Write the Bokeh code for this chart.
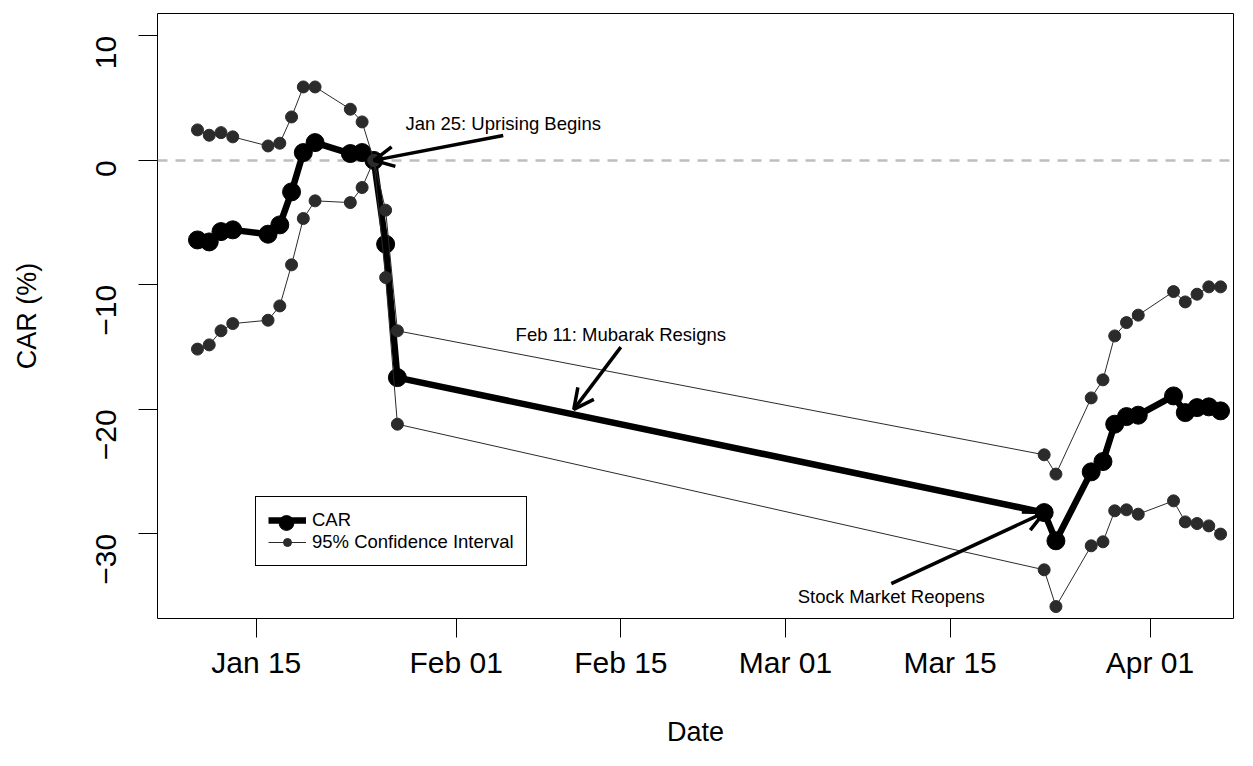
import math
import pandas as pd
from bokeh.plotting import figure
from bokeh.models import (Range1d, FixedTicker, DatetimeTickFormatter, Span, Label,
                          Arrow, OpenHead, Legend, LegendItem, ColumnDataSource)
from bokeh.embed import file_html
from bokeh.resources import INLINE

# ---------------- data ----------------
dates = ["2011-01-10", "2011-01-11", "2011-01-12", "2011-01-13", "2011-01-16",
         "2011-01-17", "2011-01-18", "2011-01-19", "2011-01-20", "2011-01-23",
         "2011-01-24", "2011-01-25", "2011-01-26", "2011-01-27", "2011-03-23",
         "2011-03-24", "2011-03-27", "2011-03-28", "2011-03-29", "2011-03-30",
         "2011-03-31", "2011-04-03", "2011-04-04", "2011-04-05", "2011-04-06",
         "2011-04-07"]
car = [-6.39, -6.55, -5.72, -5.58, -5.93, -5.18, -2.53, 0.63, 1.43, 0.55,
       0.63, 0.0, -6.73, -17.45, -28.29, -30.56, -25.02, -24.19, -21.19, -20.58,
       -20.47, -18.92, -20.26, -19.86, -19.80, -20.12]
ci_upper = [2.45, 2.02, 2.23, 1.89, 1.16, 1.38, 3.49, 5.90, 5.90, 4.11,
            3.09, 0.0, -4.00, -13.69, -23.65, -25.20, -19.08, -17.63, -14.10, -13.03,
            -12.43, -10.54, -11.37, -10.75, -10.16, -10.16]
ci_lower = [-15.16, -14.82, -13.69, -13.11, -12.84, -11.69, -8.39, -4.67, -3.25, -3.39,
            -2.18, 0.0, -9.41, -21.19, -32.89, -35.84, -30.96, -30.64, -28.15, -28.07,
            -28.42, -27.35, -29.04, -29.17, -29.36, -30.02]

x_ticks = ["2011-01-15", "2011-02-01", "2011-02-15", "2011-03-01", "2011-03-15", "2011-04-01"]
y_ticks = [-30, -20, -10, 0, 10]
y_tick_labels = ["\u221230", "\u221220", "\u221210", "0", "10"]

series_labels = ["CAR", "95% Confidence Interval"]

ann_text = ["Jan 25: Uprising Begins", "Feb 11: Mubarak Resigns", "Stock Market Reopens"]
ann_text_x = ["2011-02-05", "2011-02-15", "2011-03-10"]
ann_text_y = [3.0, -14.0, -35.0]
arrow_x0 = ["2011-02-05", "2011-02-15", "2011-03-10"]
arrow_y0 = [2.0, -15.0, -34.0]
arrow_x1 = ["2011-01-25", "2011-02-11", "2011-03-23"]
arrow_y1 = [0.0, -20.0, -28.29]


def ms(d):
    return pd.Timestamp(d).value / 1e6


FONT = "Liberation Sans"

src = ColumnDataSource(dict(x=pd.to_datetime(dates), car=car, up=ci_upper, lo=ci_lower))

x_start = pd.Timestamp("2011-01-15") - pd.Timedelta(days=8.4)
x_end = pd.Timestamp("2011-01-15") + pd.Timedelta(days=83.1)

p = figure(width=1253, height=766, x_axis_type="datetime",
           x_range=Range1d(x_start, x_end), y_range=Range1d(-36.8, 11.8),
           output_backend="svg", toolbar_location=None,
           min_border_left=157, min_border_right=20, min_border_top=13, min_border_bottom=148)

p.xgrid.visible = False
p.ygrid.visible = False
p.outline_line_color = "black"
p.outline_line_width = 1
p.outline_line_alpha = 1
p.background_fill_color = "white"
p.border_fill_color = "white"

# zero line
p.add_layout(Span(location=0, dimension="width", line_color="#BEBEBE",
                  line_dash="10 8", line_width=2.5, level="underlay"))

# series
car_line = p.line("x", "car", source=src, line_color="black", line_width=6.5)
car_pts = p.scatter("x", "car", source=src, size=18, color="black")
ci_col = "#2b2b2b"
up_line = p.line("x", "up", source=src, line_color=ci_col, line_width=1)
up_pts = p.scatter("x", "up", source=src, size=12, color=ci_col)
lo_line = p.line("x", "lo", source=src, line_color=ci_col, line_width=1)
lo_pts = p.scatter("x", "lo", source=src, size=12, color=ci_col)

# axes
for ax in (p.xaxis[0], p.yaxis[0]):
    ax.axis_line_color = None
    ax.major_tick_out = 19
    ax.major_tick_in = 0
    ax.minor_tick_out = 0
    ax.minor_tick_in = 0
    ax.major_tick_line_color = "black"
    ax.major_label_text_font = FONT
    ax.major_label_text_font_size = "30px"
    ax.major_label_text_color = "black"
    ax.axis_label_text_font = FONT
    ax.axis_label_text_font_size = "27px"
    ax.axis_label_text_font_style = "normal"
    ax.axis_label_text_color = "black"

p.xaxis.ticker = FixedTicker(ticks=[ms(d) for d in x_ticks])
p.xaxis.formatter = DatetimeTickFormatter(days="%b %d", months="%b %d", years="%b %d",
                                          hours="%b %d")
p.xaxis.major_label_standoff = 8
p.xaxis.axis_label = "Date"
p.xaxis.axis_label_standoff = 35

p.yaxis.ticker = FixedTicker(ticks=y_ticks)
p.yaxis.major_label_overrides = dict(zip(y_ticks, y_tick_labels))
p.yaxis.major_label_orientation = math.pi / 2
p.yaxis.major_label_standoff = 32
p.yaxis.axis_label = "CAR (%)"
p.yaxis.axis_label_standoff = 42

# annotations
for t, tx, ty in zip(ann_text, ann_text_x, ann_text_y):
    p.add_layout(Label(x=ms(tx), y=ty, text=t, text_align="center", text_baseline="middle",
                       text_font=FONT, text_font_size="18.5px", text_color="black"))
for xa, ya, xb, yb in zip(arrow_x0, arrow_y0, arrow_x1, arrow_y1):
    p.add_layout(Arrow(end=OpenHead(size=20, line_width=3.5, line_color="black"),
                       x_start=ms(xa), y_start=ya, x_end=ms(xb), y_end=yb,
                       line_width=3.5, line_color="black"))

# legend
leg = Legend(items=[LegendItem(label=series_labels[0], renderers=[car_line, car_pts]),
                    LegendItem(label=series_labels[1], renderers=[up_line, up_pts])],
             location=(98, 52), padding=12, spacing=0, glyph_width=38, glyph_height=20,
             label_height=20, label_standoff=6, label_text_font=FONT,
             label_text_font_size="18.5px", label_text_color="black",
             border_line_color="black", border_line_width=1, border_line_alpha=1,
             background_fill_color="white", background_fill_alpha=1, margin=0)
p.add_layout(leg)
leg2 = Legend(items=[LegendItem(label=" ", renderers=[car_pts])],
              location=(110, 77.5), padding=0, spacing=0, glyph_width=38, glyph_height=37,
              label_height=20, label_standoff=0, label_text_font_size="1px",
              border_line_color=None, background_fill_alpha=0, margin=0)
p.add_layout(leg2)

open("out.html", "w").write(file_html(p, INLINE))
